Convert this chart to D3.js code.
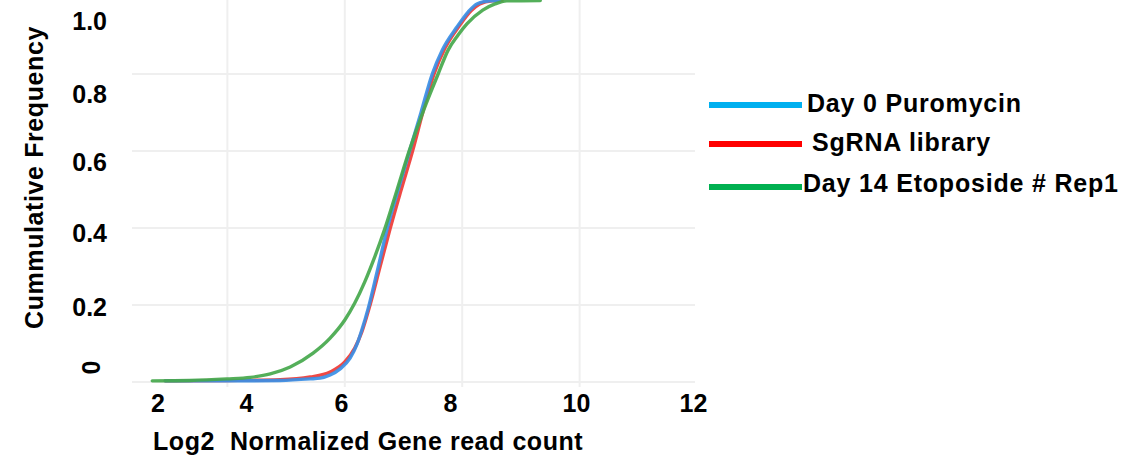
<!DOCTYPE html>
<html>
<head>
<meta charset="utf-8">
<script src="https://cdn.jsdelivr.net/npm/d3@7"></script>
<style>
  html, body { margin: 0; padding: 0; background: #ffffff; }
  svg { display: block; font-family: "Liberation Sans", Arial, Helvetica, sans-serif; font-weight: bold; }
</style>
</head>
<body>
<svg id="chart" width="1134" height="459"></svg>
<script>
// ---------- data ----------
const xTicks = [2, 4, 6, 8, 10, 12];
const yTicks = [0, 0.2, 0.4, 0.6, 0.8, 1.0];
const yTickText = ["0", "0.2", "0.4", "0.6", "0.8", "1.0"];
const xGridValues = [4, 6, 8, 10];
const yGridValues = [0, 0.2, 0.4, 0.6, 0.8];

const seriesNames = ["Day 0 Puromycin", "SgRNA library", "Day 14 Etoposide # Rep1"];

const day0X = [2.94, 3.99, 4.90, 5.41, 5.58, 5.75, 5.92, 6.09, 6.21, 6.29, 6.40, 6.55, 6.72, 6.91, 7.11, 7.30, 7.49, 7.66, 7.91, 8.10, 8.25, 8.47, 8.64];
const day0Y = [0.003, 0.003, 0.004, 0.008, 0.010, 0.018, 0.034, 0.062, 0.099, 0.135, 0.192, 0.286, 0.397, 0.499, 0.603, 0.701, 0.800, 0.862, 0.922, 0.961, 0.982, 0.990, 0.991];

const sgrnaX = [2.94, 3.99, 4.90, 5.41, 5.75, 6.00, 6.17, 6.29, 6.43, 6.60, 6.77, 6.96, 7.16, 7.33, 7.52, 7.71, 7.96, 8.15, 8.30, 8.51, 8.68];
const sgrnaY = [0.003, 0.004, 0.006, 0.013, 0.026, 0.052, 0.088, 0.130, 0.200, 0.299, 0.397, 0.499, 0.603, 0.701, 0.800, 0.868, 0.927, 0.964, 0.982, 0.990, 0.991];

const day14X = [2.72, 3.36, 3.99, 4.39, 4.73, 5.07, 5.46, 5.75, 6.00, 6.17, 6.34, 6.51, 6.68, 6.89, 7.09, 7.35, 7.59, 7.76, 7.93, 8.08, 8.35, 8.56, 8.76, 9.33];
const day14Y = [0.003, 0.004, 0.008, 0.012, 0.021, 0.039, 0.075, 0.114, 0.161, 0.205, 0.260, 0.325, 0.397, 0.499, 0.597, 0.709, 0.800, 0.862, 0.901, 0.930, 0.966, 0.982, 0.990, 0.991];

// ---------- layout ----------
const svg = d3.select("#chart");
svg.append("rect").attr("width", 1134).attr("height", 459).attr("fill", "#ffffff");

const gridLeft = 132, gridRight = 695, gridTop = 0, gridBottom = 387;

// plotting scales (the chart's own coordinate frame)
const x = d3.scaleLinear().domain([2, 12]).range([110, 697]);
const y = d3.scaleLinear().domain([0, 1]).range([382, -3]);

// tick label placement scales (labels sit where the reference puts them)
const xLabel = d3.scaleLinear().domain(xTicks).range([157.5, 246, 341, 450, 576, 693]);
const yLabel = d3.scaleLinear().domain(yTicks).range([367, 306, 232, 161, 93, 20.5]);

// ---------- grid ----------
const grid = svg.append("g").attr("stroke", "#efefef").attr("stroke-width", 2);
grid.selectAll("line.v").data(xGridValues).join("line")
  .attr("class", "v")
  .attr("x1", d => x(d)).attr("x2", d => x(d))
  .attr("y1", gridTop).attr("y2", gridBottom);
grid.selectAll("line.h").data(yGridValues).join("line")
  .attr("class", "h")
  .attr("x1", gridLeft).attr("x2", gridRight)
  .attr("y1", d => y(d)).attr("y2", d => y(d));

// ---------- curves ----------
const line = d3.line().x(d => x(d[0])).y(d => y(d[1])).curve(d3.curveMonotoneX);
const curves = [
  { name: seriesNames[1], xs: sgrnaX, ys: sgrnaY, color: "#ee3a35" },
  { name: seriesNames[0], xs: day0X, ys: day0Y, color: "#3a8fe6" },
  { name: seriesNames[2], xs: day14X, ys: day14Y, color: "#45a84c" }
];
svg.append("g").selectAll("path").data(curves).join("path")
  .attr("d", c => line(c.xs.map((v, i) => [v, c.ys[i]])))
  .attr("fill", "none")
  .attr("stroke", c => c.color)
  .attr("stroke-width", 3.4)
  .attr("stroke-opacity", 0.92)
  .attr("stroke-linecap", "round");

// ---------- axes ----------
const xAxis = svg.append("g")
  .call(d3.axisBottom(xLabel).tickValues(xTicks).tickSize(0).tickFormat(d3.format("d")));
xAxis.select(".domain").remove();
xAxis.selectAll("text")
  .attr("y", 412).attr("dy", 0)
  .attr("fill", "#000").style("font-size", "25px").style("font-weight", "bold")
  .style("font-family", "'Liberation Sans', Arial, sans-serif");

const yAxis = svg.append("g").attr("transform", "translate(107,0)")
  .call(d3.axisLeft(yLabel).tickValues(yTicks).tickSize(0).tickPadding(0)
    .tickFormat((d, i) => yTickText[i]));
yAxis.select(".domain").remove();
yAxis.selectAll("text")
  .attr("fill", "#000").style("font-size", "25px").style("font-weight", "bold")
  .style("font-family", "'Liberation Sans', Arial, sans-serif")
  .attr("dy", "0.36em");
yAxis.selectAll(".tick").filter(d => d === 0).select("text")
  .attr("x", -16).attr("text-anchor", "middle")
  .attr("transform", "rotate(-90,-16,0)");

// ---------- axis titles ----------
svg.append("text")
  .attr("x", 153).attr("y", 450)
  .style("font-size", "25px").style("letter-spacing", "0.55px").style("white-space", "pre")
  .attr("fill", "#000")
  .text("Log2  Normalized Gene read count");

svg.append("text")
  .attr("transform", "translate(43,177.5) rotate(-90)")
  .attr("text-anchor", "middle")
  .style("font-size", "25px").style("letter-spacing", "0.6px")
  .attr("fill", "#000")
  .text("Cummulative Frequency");

// ---------- legend ----------
const legendItems = [
  { name: seriesNames[0], color: "#00b0f0", ly: 105, tx: 807, ty: 112 },
  { name: seriesNames[1], color: "#ff0000", ly: 144, tx: 812, ty: 150.5 },
  { name: seriesNames[2], color: "#00b050", ly: 187, tx: 803, ty: 191.5 }
];
const lg = svg.append("g");
lg.selectAll("line").data(legendItems).join("line")
  .attr("x1", 709).attr("x2", 802)
  .attr("y1", d => d.ly).attr("y2", d => d.ly)
  .attr("stroke", d => d.color).attr("stroke-width", 6);
lg.selectAll("text").data(legendItems).join("text")
  .attr("x", d => d.tx).attr("y", d => d.ty)
  .style("font-size", "25px").style("letter-spacing", "0.8px")
  .attr("fill", "#000")
  .text(d => d.name);
</script>
</body>
</html>
